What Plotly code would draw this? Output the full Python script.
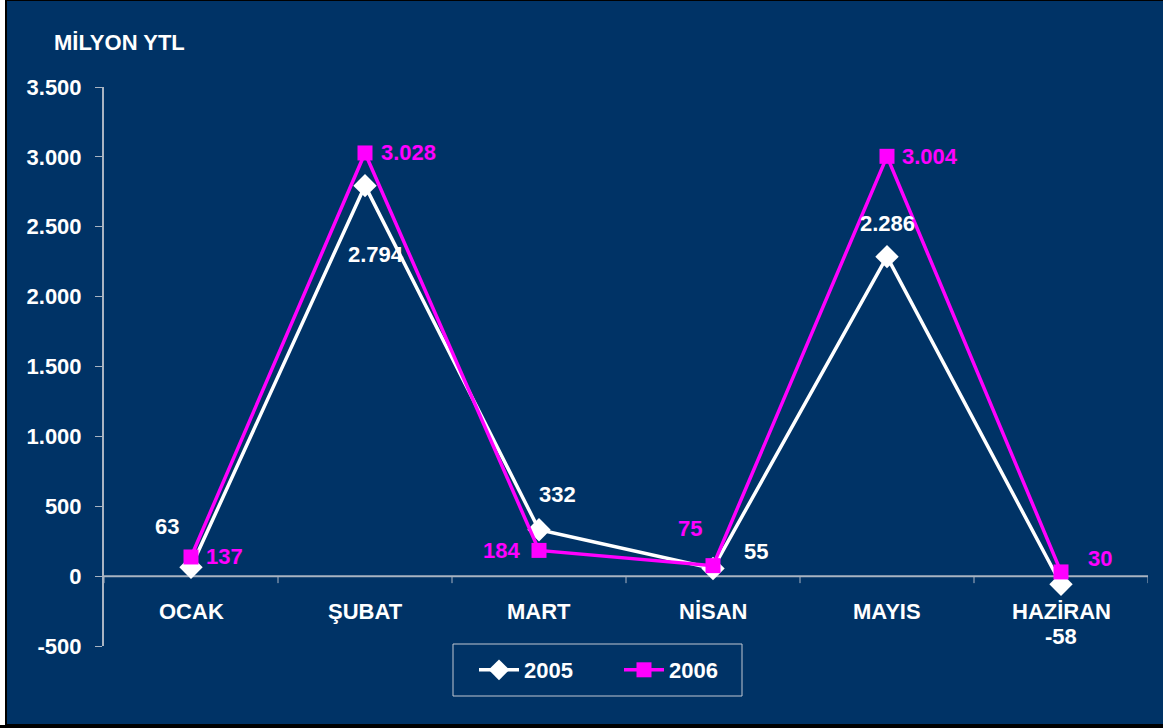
import plotly.graph_objects as go

# Monthly values (million YTL)
months = ["OCAK", "ŞUBAT", "MART", "NİSAN", "MAYIS", "HAZİRAN"]
values_2005 = [63, 2794, 332, 55, 2286, -58]
values_2006 = [137, 3028, 184, 75, 3004, 30]
y_ticks = [-500, 0, 500, 1000, 1500, 2000, 2500, 3000, 3500]


def tr_fmt(v):
    # Turkish thousands separator
    return f"{v:,}".replace(",", ".")


NAVY = "#003366"
MAGENTA = "#FF00FF"
WHITE = "#FFFFFF"
AXIS = "#A9B4C2"
FONT = "Liberation Sans, Arial, sans-serif"
FS = 22

W, H = 1163, 728
ML, MR, MT, MB = 104, 15, 87, 82

fig = go.Figure()
fig.add_trace(go.Scatter(
    x=months, y=values_2005, name="<b>2005</b>", mode="lines+markers",
    line=dict(color=WHITE, width=3.5),
    marker=dict(symbol="diamond", size=18, color=WHITE),
))
fig.add_trace(go.Scatter(
    x=months, y=values_2006, name="<b>2006</b>", mode="lines+markers",
    line=dict(color=MAGENTA, width=3.5),
    marker=dict(symbol="square", size=15, color=MAGENTA),
))

# Data labels: per-point pixel offsets from each marker
offs_2005 = [(-24, 41), (11, -69), (18, 35), (43, 17), (0, 33), (0, -52)]
offs_2006 = [(33, 0), (43, 0), (-38, 0), (-23, 37), (43, 0), (39, 13)]
annotations = []
for vals, col, offs in ((values_2005, WHITE, offs_2005), (values_2006, MAGENTA, offs_2006)):
    for m, v, (dx, dy) in zip(months, vals, offs):
        annotations.append(dict(
            x=m, y=v, text=f"<b>{tr_fmt(v)}</b>", showarrow=False,
            xshift=dx, yshift=dy, font=dict(color=col, size=FS, family=FONT),
        ))

# Category labels under the zero line
for m in months:
    annotations.append(dict(
        x=m, y=0, text=f"<b>{m}</b>", showarrow=False, yanchor="middle",
        yshift=-35, font=dict(color=WHITE, size=FS, family=FONT),
    ))

annotations.append(dict(
    xref="paper", yref="paper", x=(52 - ML) / (W - ML - MR), y=1.0, yshift=45,
    xanchor="left", yanchor="middle",
    text="<b>MİLYON YTL</b>", showarrow=False,
    font=dict(color=WHITE, size=FS, family=FONT),
))

# Zero line acting as the category axis, with ticks between categories
shapes = [dict(type="line", xref="paper", yref="y", x0=0, x1=1, y0=0, y1=0,
               line=dict(color=AXIS, width=2), layer="below")]
for i in range(len(months) + 1):
    shapes.append(dict(type="line", xref="x", yref="y", x0=i - 0.5, x1=i - 0.5,
                       ysizemode="pixel", yanchor=0, y0=0, y1=-7,
                       line=dict(color=AXIS, width=1)))

# Outer frame
px = lambda p: (p - ML) / (W - ML - MR)
py = lambda p: 1 - (p - MT) / (H - MT - MB)
shapes.append(dict(type="rect", xref="paper", yref="paper", x0=px(0), x1=px(6),
                   y0=py(H), y1=py(0), fillcolor="#FFFFFF", line=dict(width=0), layer="below"))
shapes.append(dict(type="rect", xref="paper", yref="paper", x0=px(6), x1=px(W + 2),
                   y0=py(725), y1=py(0), fillcolor="rgba(0,0,0,0)",
                   line=dict(color="#000000", width=2), layer="below"))
shapes.append(dict(type="rect", xref="paper", yref="paper", x0=px(0), x1=px(W),
                   y0=py(H), y1=py(725), fillcolor="#000000", line=dict(width=0), layer="below"))
# Legend frame
shapes.append(dict(type="rect", xref="paper", yref="paper", x0=px(453), x1=px(742),
                   y0=py(696), y1=py(644), fillcolor="rgba(0,0,0,0)",
                   line=dict(color="#C0C8D2", width=1)))

fig.update_layout(
    width=W, height=H,
    margin=dict(l=ML, r=MR, t=MT, b=MB),
    paper_bgcolor=NAVY, plot_bgcolor=NAVY,
    font=dict(family=FONT, color=WHITE),
    xaxis=dict(type="category", range=[-0.5, 5.5], showticklabels=False,
               showgrid=False, zeroline=False, showline=False, ticks=""),
    yaxis=dict(range=[-500, 3500], tickvals=y_ticks,
               ticktext=[f"<b>{tr_fmt(v)}</b>" for v in y_ticks],
               showgrid=False, zeroline=False, showline=True, linecolor=AXIS,
               linewidth=2, ticks="outside", ticklen=7, tickcolor=AXIS,
               ticklabelstandoff=9,
               tickfont=dict(size=FS, color=WHITE, family=FONT)),
    legend=dict(orientation="h", x=px(474), y=py(670), xanchor="left", yanchor="middle",
                bgcolor="rgba(0,0,0,0)", borderwidth=0,
                font=dict(size=FS, color=WHITE, family=FONT),
                entrywidth=90, itemwidth=40),
    annotations=annotations,
    shapes=shapes,
    showlegend=True,
)

fig.write_html("out.html")
